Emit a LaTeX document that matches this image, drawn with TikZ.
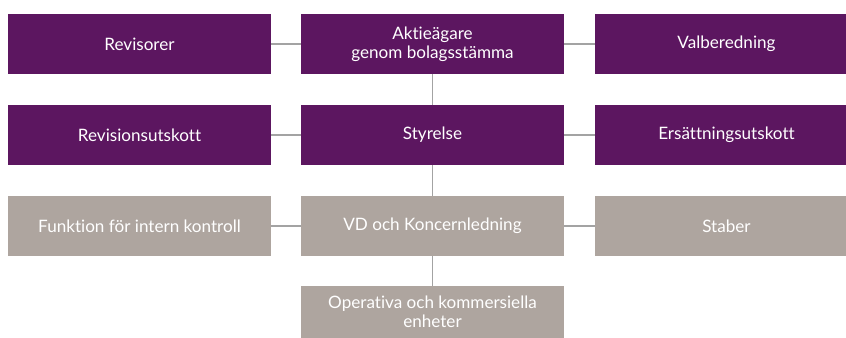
\documentclass[tikz,border=0pt]{standalone}
\usepackage{fontspec}
\setmainfont[Ligatures=NoCommon]{Lato}
\usepackage{tikz}
\usetikzlibrary{positioning}
\definecolor{boardpurple}{HTML}{5C1660}
\definecolor{opsgrey}{HTML}{AEA59F}
\definecolor{linegrey}{HTML}{A3A3A3}

\begin{document}
\begin{tikzpicture}[
    box/.style={minimum width=7.89cm, minimum height=1.8cm, inner sep=0pt,
        text=white, align=center, font=\fontsize{14.6}{16}\selectfont},
    board/.style={box, fill=boardpurple},
    ops/.style={box, fill=opsgrey},
    conn/.style={draw=linegrey, line width=1.1pt}]
    % fix the size of the picture
    \useasboundingbox (0,0) rectangle (25.38,10.14);

    % the governance boxes
    \node[board] (revisorer) at (4.185,8.82) {Revisorer};
    \node[board] (aktieagare) at (12.975,8.82) {Aktieägare\\genom bolagsstämma};
    \node[board] (valberedning) at (21.795,8.82) {Valberedning};
    %
    \node[board] (revutskott) at (4.185,6.09) {Revisionsutskott};
    \node[board] (styrelse) at (12.975,6.09) {Styrelse};
    \node[board] (ersutskott) at (21.795,6.09) {Ersättningsutskott};

    % the operative boxes
    \node[ops] (intkontroll) at (4.185,3.36) {Funktion för intern kontroll};
    \node[ops] (vd) at (12.975,3.36) {VD och Koncernledning};
    \node[ops] (staber) at (21.795,3.36) {Staber};
    \node[ops, minimum height=1.56cm] (enheter) at (12.975,0.78) {Operativa och kommersiella\\enheter};

    % draw the connecting lines
    \draw[conn] (revisorer) -- (aktieagare);
    \draw[conn] (aktieagare) -- (valberedning);
    \draw[conn] (revutskott) -- (styrelse);
    \draw[conn] (styrelse) -- (ersutskott);
    \draw[conn] (intkontroll) -- (vd);
    \draw[conn] (vd) -- (staber);
    %
    \draw[conn] (aktieagare) -- (styrelse);
    \draw[conn] (styrelse) -- (vd);
    \draw[conn] (vd) -- (enheter);
\end{tikzpicture}
\end{document}
